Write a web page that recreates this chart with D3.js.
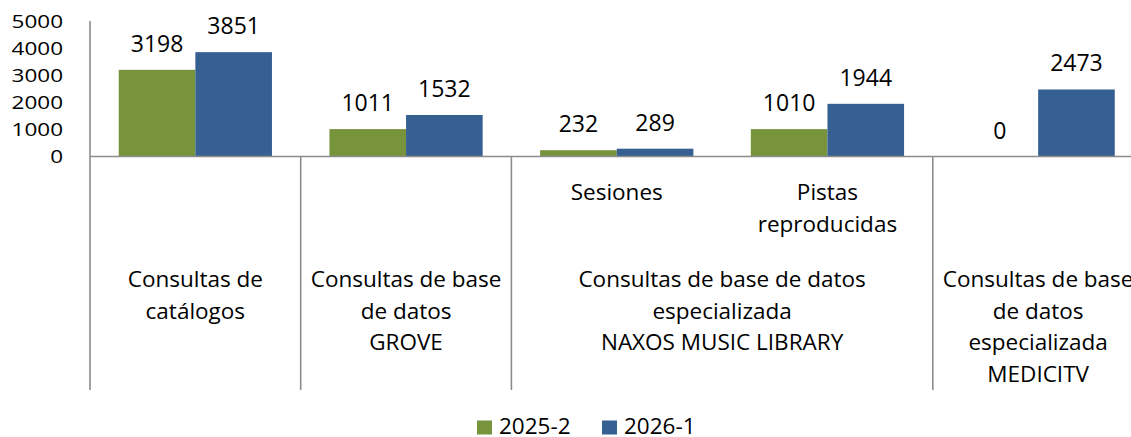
<!DOCTYPE html>
<html>
<head>
<meta charset="utf-8">
<script src="https://cdn.jsdelivr.net/npm/d3@7"></script>
<style>
  body { margin: 0; background: #fff; overflow: hidden; }
  svg { display: block; font-family: "Open Sans", Lato, sans-serif; }
</style>
</head>
<body>
<script>
// ---- data ----
var leaves = ["catalogos", "grove", "sesiones", "pistas", "medicitv"];
var leafLabels = [[], [], ["Sesiones"], ["Pistas", "reproducidas"], []];
var groupOf = ["g1", "g2", "g3", "g3", "g4"];
var groupLabels = {
    g1: ["Consultas de", "catálogos"],
    g2: ["Consultas de base", "de datos", "GROVE"],
    g3: ["Consultas de base de datos", "especializada", "NAXOS MUSIC LIBRARY"],
    g4: ["Consultas de base", "de datos", "especializada", "MEDICITV"]
};
var seriesNames = ["2025-2", "2026-1"];
var values2025 = [3198, 1011, 232, 1010, 0];
var values2026 = [3851, 1532, 289, 1944, 2473];
var yTicks = [0, 1000, 2000, 3000, 4000, 5000];
var colors = ["#77933c", "#376092"];

var width = 1131, height = 437;
var svg = d3.select("body").append("svg").attr("width", width).attr("height", height);

// plot runs past the right edge, like the original
var x0 = d3.scaleBand().domain(leaves).range([90, 1143.5]).padding(0);
var x1 = d3.scaleBand().domain(seriesNames).range([0, x0.bandwidth()]).paddingInner(0).paddingOuter(0.375);
var y = d3.scaleLinear().domain([0, 5000]).range([156.5, 21]);

var rows = leaves.map(function (d, i) { return { leaf: d, v: [values2025[i], values2026[i]] }; });

// bars + value labels
var g = svg.append("g");
rows.forEach(function (r) {
    g.selectAll(null).data(seriesNames).enter().append("rect")
        .attr("x", function (s) { return x0(r.leaf) + x1(s); })
        .attr("width", x1.bandwidth())
        .attr("y", function (s, i) { return y(r.v[i]); })
        .attr("height", function (s, i) { return y(0) - y(r.v[i]); })
        .attr("fill", function (s, i) { return colors[i]; });
    g.selectAll(null).data(seriesNames).enter().append("text")
        .attr("x", function (s) { return x0(r.leaf) + x1(s) + x1.bandwidth() / 2; })
        .attr("y", function (s, i) { return y(r.v[i]) - 18; })
        .attr("text-anchor", "middle")
        .attr("font-size", 23)
        .attr("fill", "#000")
        .text(function (s, i) { return r.v[i]; });
});

// y axis labels (no tick marks), a bit squashed like the source
var yAxis = d3.axisLeft(y).tickValues(yTicks).tickFormat(d3.format("d")).tickSize(0).tickPadding(0);
var ya = svg.append("g").attr("transform", "translate(63,0)").call(yAxis);
ya.select(".domain").remove();
ya.selectAll("text")
    .attr("font-size", 22.5).attr("font-family", "'Open Sans', sans-serif").attr("fill", "#000")
    .attr("dy", "0.36em").attr("transform", "scale(1,0.8)");

// axis lines
var axisColor = "#8c8c8c";
svg.append("line").attr("x1", 90).attr("x2", 1143.5).attr("y1", y(0)).attr("y2", y(0))
    .attr("stroke", axisColor).attr("stroke-width", 1.6);
svg.append("line").attr("x1", 90).attr("x2", 90).attr("y1", 21).attr("y2", 390)
    .attr("stroke", axisColor).attr("stroke-width", 1.6);

// group separators
var groups = [];
leaves.forEach(function (d, i) {
    var last = groups[groups.length - 1];
    if (last && last.id === groupOf[i]) { last.end = x0(d) + x0.bandwidth(); }
    else { groups.push({ id: groupOf[i], start: x0(d), end: x0(d) + x0.bandwidth() }); }
});
svg.selectAll("line.sep").data(groups.slice(1)).enter().append("line")
    .attr("class", "sep")
    .attr("x1", function (d) { return d.start; }).attr("x2", function (d) { return d.start; })
    .attr("y1", y(0)).attr("y2", 390)
    .attr("stroke", axisColor).attr("stroke-width", 1.6);

// leaf labels
leaves.forEach(function (d, i) {
    var t = svg.append("text").attr("text-anchor", "middle").attr("font-size", 22.5).attr("fill", "#000");
    leafLabels[i].forEach(function (line, j) {
        t.append("tspan").attr("x", x0(d) + x0.bandwidth() / 2).attr("y", 200 + j * 31.5).text(line);
    });
});

// group labels
groups.forEach(function (gr) {
    var t = svg.append("text").attr("text-anchor", "middle").attr("font-size", 22.5).attr("fill", "#000");
    groupLabels[gr.id].forEach(function (line, j) {
        t.append("tspan").attr("x", (gr.start + gr.end) / 2).attr("y", 287 + j * 31.5).text(line);
    });
});

// legend
var legend = svg.append("g").selectAll("g").data(seriesNames).enter().append("g")
    .attr("transform", function (d, i) { return "translate(" + (477 + i * 125) + ",420.5)"; });
legend.append("rect").attr("width", 15).attr("height", 14).attr("fill", function (d, i) { return colors[i]; });
legend.append("text").attr("x", 22).attr("y", 13).attr("font-size", 22.5).attr("fill", "#000").text(function (d) { return d; });
</script>
</body>
</html>
